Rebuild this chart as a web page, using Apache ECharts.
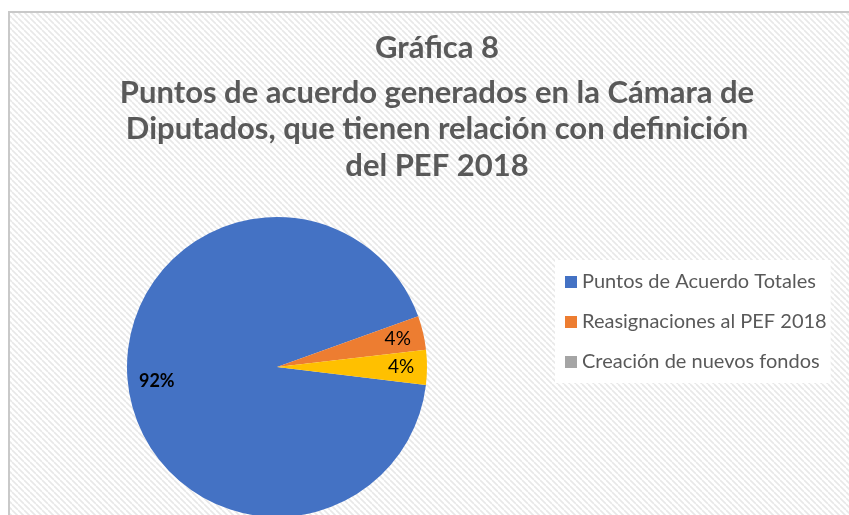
<!DOCTYPE html>
<html><head><meta charset="utf-8">
<script src="https://cdn.jsdelivr.net/npm/echarts@6/dist/echarts.min.js"></script>
<style>html,body{margin:0;padding:0;background:#fff}#c{width:849px;height:515px}</style>
</head><body><div id="c"></div>
<script>
const titleLines = ['Gráfica 8', 'Puntos de acuerdo generados en la Cámara de', 'Diputados, que tienen relación con definición', 'del PEF 2018'];
const categories = ['Puntos de Acuerdo Totales', 'Reasignaciones al PEF 2018', 'Creación de nuevos fondos'];
const values = [92.6, 3.65, 3.75];
const sliceColors = ['#4472C4', '#ED7D31', '#FFC000'];
const legendColors = ['#4472C4', '#ED7D31', '#A5A5A5'];

function makePattern() {
  const c = document.createElement('canvas');
  c.width = 6; c.height = 6;
  const g = c.getContext('2d');
  g.fillStyle = '#ffffff'; g.fillRect(0, 0, 6, 6);
  g.strokeStyle = '#e8e8e8'; g.lineWidth = 1.6;
  for (let k = -6; k <= 12; k += 6) {
    g.beginPath(); g.moveTo(k, 0); g.lineTo(k + 6, 6); g.stroke();
  }
  return c;
}

const titleY = [48, 93, 129, 166];
const titleFont = {fontFamily: 'Lato', fontWeight: 'bold', fontSize: 31, fill: '#595959', align: 'center', verticalAlign: 'middle'};

const chart = echarts.init(document.getElementById('c'), null, {renderer: 'canvas'});
const option = {
  backgroundColor: '#fff',
  animation: false,
  graphic: [
    {type: 'rect', shape: {x: 9, y: 12, width: 860, height: 520}, style: {fill: {image: makePattern(), repeat: 'repeat'}, stroke: '#c9c9c9', lineWidth: 2}, z: -10, silent: true}
  ].concat(titleLines.map((t, i) => ({
    type: 'text', x: 437, y: titleY[i], silent: true,
    style: Object.assign({text: t}, titleFont)
  }))),
  legend: {
    orient: 'vertical', left: 555, top: 260,
    backgroundColor: '#ffffff',
    padding: [12, 4, 11, 10],
    icon: 'rect', itemWidth: 12, itemHeight: 12, itemGap: 20,
    textStyle: {fontFamily: 'Lato', fontSize: 20, color: '#595959'},
    data: categories.map((n, i) => ({name: n, itemStyle: {color: legendColors[i]}}))
  },
  series: [
    {
      type: 'pie', center: [277, 367], radius: 150, startAngle: -6.9, clockwise: true,
      label: {show: false}, labelLine: {show: false}, silent: true,
      data: categories.map((n, i) => ({name: n, value: values[i], itemStyle: {color: sliceColors[i]}}))
    },
    {
      type: 'pie', center: [277, 367], radius: [92, 150], startAngle: -6.9, clockwise: true,
      percentPrecision: 0, silent: true,
      labelLine: {show: false},
      label: {show: true, position: 'inside', formatter: '{d}%', fontFamily: 'Lato', fontSize: 19, color: '#000'},
      data: categories.map((n, i) => ({name: n, value: values[i], itemStyle: {color: 'rgba(0,0,0,0)'},
        label: i === 0 ? {fontWeight: 'bold', fontSize: 18, offset: [3, 0]} : {}}))
    }
  ]
};
chart.setOption(option);
</script></body></html>
